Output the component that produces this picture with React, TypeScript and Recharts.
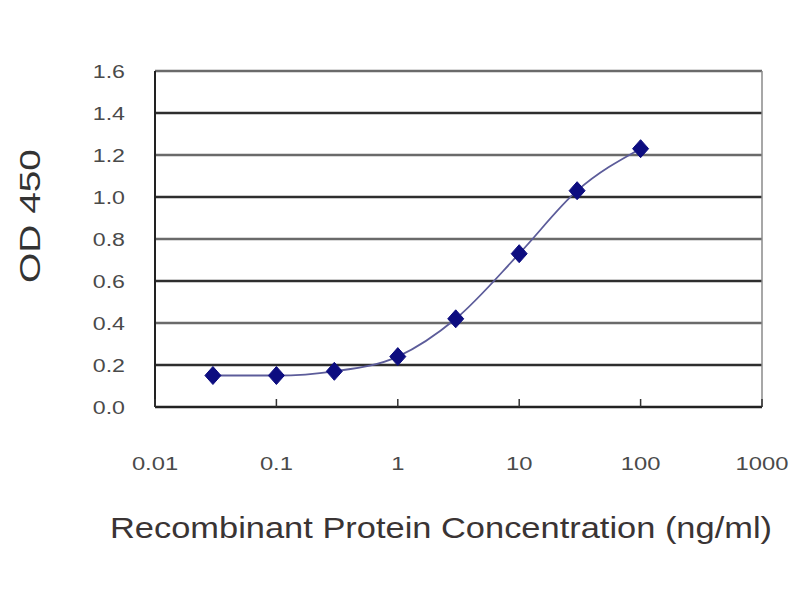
import { ComposedChart, Line, XAxis, YAxis, CartesianGrid, Label, ReferenceLine } from "recharts";

const concentrations = [0.03, 0.1, 0.3, 1, 3, 10, 30, 100];
const od450 = [0.15, 0.15, 0.17, 0.24, 0.42, 0.73, 1.03, 1.23];
const xTicks = [0.01, 0.1, 1, 10, 100, 1000];
const yTicks = [0, 0.2, 0.4, 0.6, 0.8, 1.0, 1.2, 1.4, 1.6];

const data = concentrations.map((c, i) => ({ conc: c, od: od450[i] }));

const Diamond = (props: any) => {
  const { cx, cy } = props;
  if (cx == null || cy == null) return null;
  return (
    <path
      d={`M${cx},${cy - 9} L${cx + 8},${cy} L${cx},${cy + 9} L${cx - 8},${cy} Z`}
      fill="#0d0d80"
      stroke="#0d0d80"
      strokeWidth={1}
    />
  );
};

const XTick = (props: any) => {
  const { x, y, payload } = props;
  return (
    <g>
      <line x1={x} y1={y - 8} x2={x} y2={y - 16} stroke="#333" strokeWidth={1.5} />
      <text
        transform={`translate(${x},${y + 55}) scale(1.25,1)`}
        textAnchor="middle"
        fontSize={19}
        fill="#4a4a4a"
        fontFamily="Liberation Sans, Arial, sans-serif"
      >
        {String(payload.value)}
      </text>
    </g>
  );
};

const YTick = (props: any) => {
  const { x, y, payload } = props;
  return (
    <text
      transform={`translate(${x - 22},${y + 7}) scale(1.22,1)`}
      textAnchor="end"
      fontSize={19}
      fill="#4a4a4a"
      fontFamily="Liberation Sans, Arial, sans-serif"
    >
      {payload.value.toFixed(1)}
    </text>
  );
};

const gridLine = (props: any) => {
  const { x1, y1, x2, y2, index } = props;
  const top = index === 0;
  const dark = index % 2 === 1;
  return (
    <line
      key={`g-${index}`}
      x1={x1}
      y1={y1}
      x2={x2}
      y2={y2}
      stroke={top ? "#8a8a8a" : dark ? "#2e2e2e" : "#6a6a6a"}
      strokeWidth={top ? 2 : 2.5}
    />
  );
};

export default function App() {
  return (
    <div style={{ position: "absolute", left: 0, top: 0, width: 800, height: 600, background: "#fff" }}>
      <ComposedChart
        width={800}
        height={600}
        data={data}
        margin={{ top: 71, right: 38, bottom: 0, left: 0 }}
      >
        <CartesianGrid vertical={false} horizontal={gridLine} />
        <XAxis
          dataKey="conc"
          type="number"
          scale="log"
          domain={[0.01, 1000]}
          ticks={xTicks}
          interval={0}
          height={193}
          axisLine={{ stroke: "#222", strokeWidth: 2.5 }}
          tickLine={false}
          tick={<XTick />}
        >
          <Label
            content={() => (
              <text
                x={441}
                y={538}
                textAnchor="middle"
                fontSize={29}
                fill="#3a3434"
                textLength={662}
                lengthAdjust="spacingAndGlyphs"
                fontFamily="Liberation Sans, Arial, sans-serif"
              >
                Recombinant Protein Concentration (ng/ml)
              </text>
            )}
          />
        </XAxis>
        <YAxis
          type="number"
          domain={[0, 1.6]}
          ticks={yTicks}
          interval={0}
          width={155}
          axisLine={{ stroke: "#222", strokeWidth: 2 }}
          tickLine={false}
          tick={<YTick />}
        >
          <Label
            content={() => (
              <text
                x={40}
                y={216}
                transform="rotate(-90 40 216)"
                textAnchor="middle"
                fontSize={30}
                fill="#333"
                textLength={134}
                lengthAdjust="spacingAndGlyphs"
                fontFamily="Liberation Sans, Arial, sans-serif"
              >
                OD 450
              </text>
            )}
          />
        </YAxis>
        <ReferenceLine x={1000} stroke="#8a8a8a" strokeWidth={1.5} />
        <Line
          dataKey="od"
          type="monotone"
          stroke="#5c5c9a"
          strokeWidth={1.8}
          dot={<Diamond />}
          activeDot={false}
          isAnimationActive={false}
        />
      </ComposedChart>
    </div>
  );
}
